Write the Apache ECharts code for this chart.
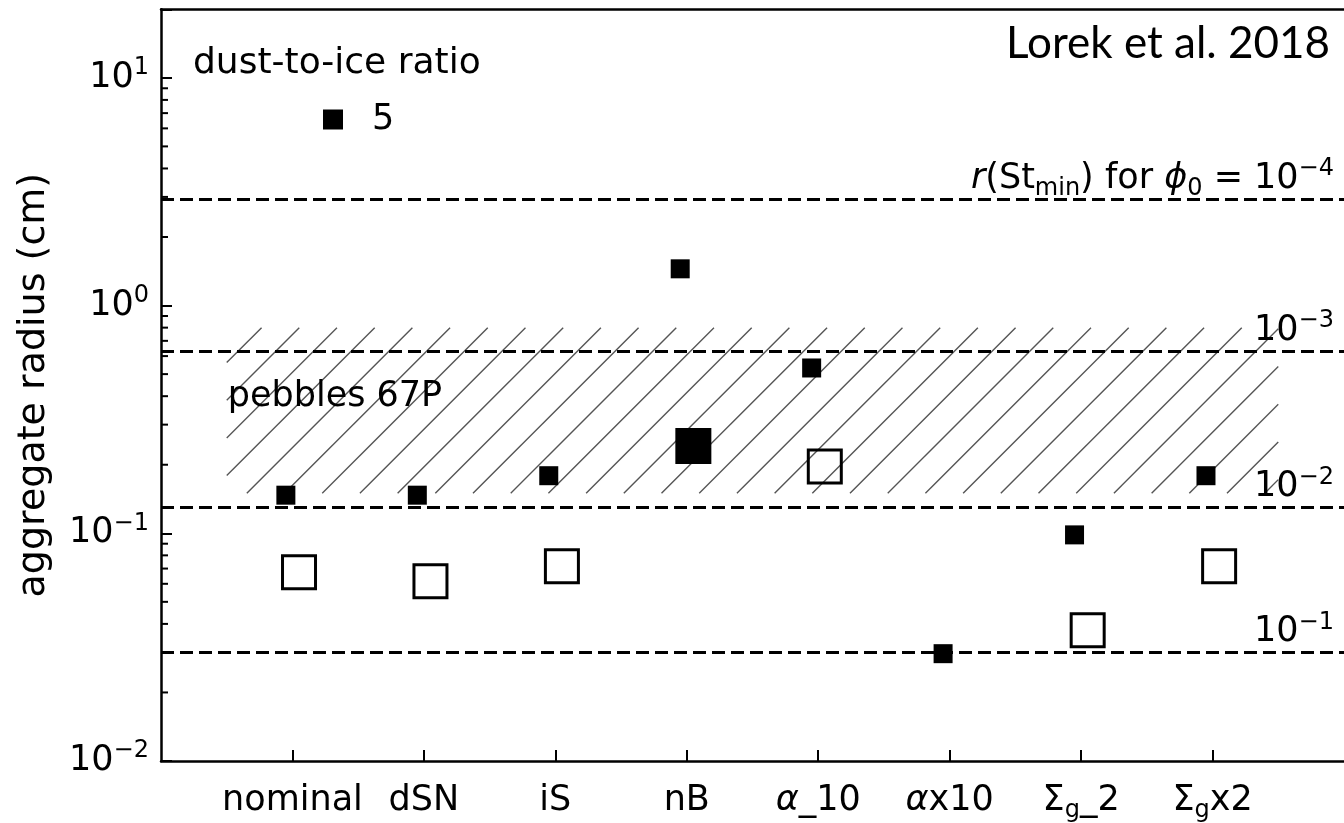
<!DOCTYPE html>
<html>
<head>
<meta charset="utf-8">
<script src="https://cdn.jsdelivr.net/npm/echarts@6/dist/echarts.min.js"></script>
<style>
  html, body { margin: 0; padding: 0; background: #ffffff; }
  #chart { width: 1344px; height: 823px; }
</style>
</head>
<body>
<div id="chart"></div>
<script>
// Simulation runs along the x axis
const categories = ['nominal', 'dSN', 'iS', 'nB', 'α_10', 'αx10', 'Σg_2', 'Σgx2'];
// Rich-text versions of the run names (Greek symbols, subscripts)
const categoryLabels = [
  '{n|nominal}', '{n|dSN}', '{n|iS}', '{n|nB}',
  '{it|α}{n|_10}', '{it|α}{n|x10}',
  '{n|Σ}{sub|g}{n|_2}', '{n|Σ}{sub|g}{n|x2}'
];

// Aggregate radius (cm), dust-to-ice ratio 5 (small filled squares)
const radiusRatio5 = [0.147, 0.147, 0.179, 1.45, 0.532, 0.0296, 0.0984, 0.179];
// Aggregate radius (cm), large squares (null = no point)
const radiusLarge = [0.0675, 0.0615, 0.0717, 0.2415, 0.1966, null, 0.0375, 0.0717];
const largeFilled = [false, false, false, true, false, false, false, false];

// r(St_min) thresholds for phi_0 = 1e-4, 1e-3, 1e-2, 1e-1
const stMinRadius = [2.94, 0.628, 0.134, 0.0289];
const stMinLabels = [
  '{it|r}{n|(St}{sub|min}{n|) for }{it|ϕ}{sub|0}{n| = 10}{sup|−4}',
  '{n|10}{sup|−3}',
  '{n|10}{sup|−2}',
  '{n|10}{sup|−1}'
];

// Pebble sizes measured on 67P (cm) and the run span the band covers
const pebbleRange = [0.15, 0.8];
const pebbleSpan = [-0.5, 7.5];
const pebbleLabel = 'pebbles 67P';
const pebbleLabelRadius = 0.36;

// Log axis decades and their labels
const yMajorTicks = [0.01, 0.1, 1, 10];
const yTickLabels = ['{b|10}{s|−2}', '{b|10}{s|−1}', '{b|10}{s|0}', '{b|10}{s|1}'];
const minorMultipliers = [2, 3, 4, 5, 6, 7, 8, 9];

const FONT = 'DejaVu Sans';
const FS = 35;

const richText = {
  n:   { fontFamily: FONT, fontSize: FS, color: '#000', lineHeight: 44 },
  it:  { fontFamily: FONT, fontSize: FS, color: '#000', lineHeight: 44, fontStyle: 'italic' },
  b:   { fontFamily: FONT, fontSize: FS, color: '#000', lineHeight: 44 },
  s:   { fontFamily: FONT, fontSize: 24, color: '#000', lineHeight: 26, verticalAlign: 'top' },
  sup: { fontFamily: FONT, fontSize: 24, color: '#000', lineHeight: 26, verticalAlign: 'top' },
  sub: { fontFamily: FONT, fontSize: 24, color: '#000', lineHeight: 30, verticalAlign: 'bottom' }
};

const minorTicks = [];
yMajorTicks.forEach(d => minorMultipliers.forEach(m => {
  const v = d * m;
  if (v < 20) minorTicks.push(v);
}));

const chart = echarts.init(document.getElementById('chart'), null, { renderer: 'canvas' });

chart.setOption({
  animation: false,
  backgroundColor: '#ffffff',
  title: [
    {
      text: 'dust-to-ice ratio', left: 193, top: 46, padding: 0,
      textStyle: { fontFamily: FONT, fontSize: 36, fontWeight: 'normal', color: '#000' }
    },
    {
      text: 'Lorek et al. 2018', right: 14, top: 22, padding: 0,
      textStyle: { fontFamily: 'Lato', fontSize: 44, fontWeight: 'normal', color: '#000' }
    }
  ],
  legend: {
    data: ['5'],
    left: 318, top: 97,
    icon: 'rect', itemWidth: 20, itemHeight: 20,
    itemStyle: { opacity: 1, color: '#000' },
    textStyle: { fontFamily: FONT, fontSize: FS, color: '#000', padding: [0, 0, 0, 24] },
    selectedMode: false
  },
  grid: { left: 161, top: 9.3, right: -9, bottom: 52 },
  xAxis: [
    {
      type: 'value', min: -1, max: 8, interval: 1,
      axisLine: { show: true, onZero: false, lineStyle: { color: '#000', width: 2.5 } },
      axisTick: { show: true, inside: true, length: 11, lineStyle: { color: '#000', width: 2 },
                  customValues: categories.map((c, i) => i) },
      axisLabel: {
        customValues: categories.map((c, i) => i),
        margin: 18,
        formatter: v => categoryLabels[Math.round(v)] || '',
        rich: richText
      },
      splitLine: { show: false }
    },
    {
      type: 'value', position: 'top', min: -1, max: 8,
      axisLine: { show: true, onZero: false, lineStyle: { color: '#000', width: 2.5 } },
      axisTick: { show: false }, axisLabel: { show: false }, splitLine: { show: false }
    }
  ],
  yAxis: [
    {
      type: 'log', logBase: 10, min: 0.01, max: 20,
      name: 'aggregate radius (cm)', nameLocation: 'middle', nameGap: 108,
      nameTextStyle: { fontFamily: FONT, fontSize: 38, color: '#000' },
      axisLine: { show: true, onZero: false, lineStyle: { color: '#000', width: 2.5 } },
      axisTick: { show: true, inside: true, length: 11, lineStyle: { color: '#000', width: 2 } },
      axisLabel: {
        margin: 12,
        formatter: v => {
          const e = Math.log10(v);
          const k = yMajorTicks.findIndex(t => Math.abs(Math.log10(t) - e) < 1e-6);
          return k >= 0 ? yTickLabels[k] : '';
        },
        rich: richText
      },
      splitLine: { show: false }
    }
  ],
  series: [
    {
      // hatched band of measured pebble sizes
      type: 'custom', name: 'pebbles', silent: true, z: 1, clip: false,
      data: [[pebbleSpan[0], pebbleRange[0], pebbleSpan[1], pebbleRange[1]]],
      renderItem: (params, api) => {
        const tl = api.coord([api.value(0), api.value(3)]);
        const br = api.coord([api.value(2), api.value(1)]);
        const left = tl[0], top = tl[1], right = br[0], bottom = br[1];
        const h = bottom - top;
        const step = 37.7;
        let c = left - 17.6;
        while (c > left - h) c -= step;
        const children = [];
        for (; c < right; c += step) {
          const t0 = Math.max(0, left - c);
          const t1 = Math.min(h, right - c);
          if (t1 <= t0) continue;
          children.push({
            type: 'line',
            shape: { x1: c + t0, y1: bottom - t0, x2: c + t1, y2: bottom - t1 },
            style: { stroke: '#555555', lineWidth: 1.4 }
          });
        }
        const lp = api.coord([api.value(0), pebbleLabelRadius]);
        children.push({
          type: 'text', x: lp[0] + 1, y: lp[1] + 8,
          style: { text: pebbleLabel, fontFamily: FONT, fontSize: FS, fill: '#000',
                   align: 'left', verticalAlign: 'bottom' }
        });
        return { type: 'group', children };
      }
    },
    {
      // minor ticks of the log axis
      type: 'custom', name: 'minorTicks', silent: true, z: 4, clip: false,
      data: minorTicks.map(v => [-1, v]),
      renderItem: (params, api) => {
        const p = api.coord([api.value(0), api.value(1)]);
        return { type: 'line', shape: { x1: p[0], y1: p[1], x2: p[0] + 7, y2: p[1] },
                 style: { stroke: '#000', lineWidth: 2 } };
      }
    },
    {
      // r(St_min) thresholds
      type: 'line', name: 'stmin', data: [], silent: true, z: 2,
      markLine: {
        silent: true, symbol: 'none', animation: false, z: 2,
        lineStyle: { color: '#000', type: [13, 6], width: 3, opacity: 1 },
        label: { show: true, position: 'insideEndTop', distance: [10, -2], rich: richText },
        data: stMinRadius.map((v, i) => ({ yAxis: v, label: { formatter: stMinLabels[i] } }))
      }
    },
    {
      type: 'scatter', name: 'large', z: 3,
      symbol: 'rect', symbolSize: 33,
      itemStyle: { color: 'rgba(0,0,0,0)', borderColor: '#000', borderWidth: 3, opacity: 1 },
      data: radiusLarge
        .map((v, i) => v == null ? null : {
          value: [i + 0.05, v],
          itemStyle: largeFilled[i] ? { color: '#000' } : undefined
        })
        .filter(d => d)
    },
    {
      type: 'scatter', name: '5', z: 3,
      symbol: 'rect', symbolSize: 19,
      itemStyle: { color: '#000', opacity: 1 },
      data: radiusRatio5.map((v, i) => [i - 0.05, v])
    }
  ]
});
</script>
</body>
</html>
